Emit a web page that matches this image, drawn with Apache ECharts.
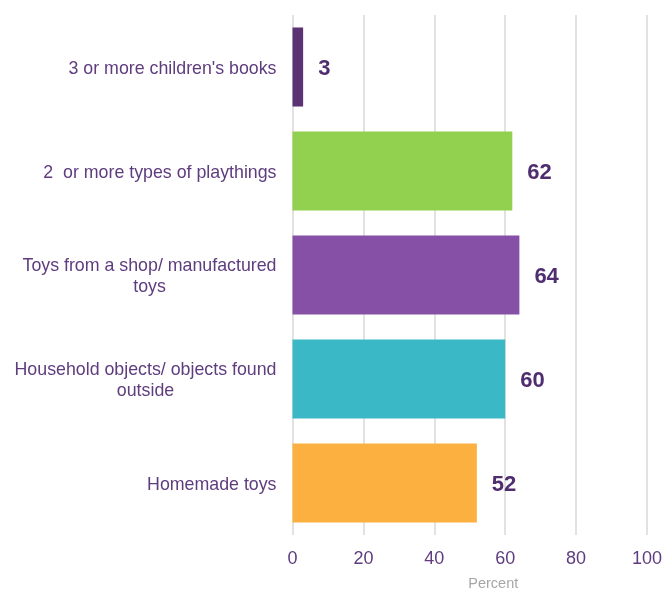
<!DOCTYPE html>
<html>
<head>
<meta charset="utf-8">
<script src="https://cdn.jsdelivr.net/npm/echarts@6/dist/echarts.min.js"></script>
<style>
  html, body { margin: 0; padding: 0; background: #fff; }
  #chart { width: 664px; height: 590px; }
</style>
</head>
<body>
<div id="chart"></div>
<script>
// categories, top to bottom
var categories = [
    "3 or more children's books",
    "2  or more types of playthings",
    "Toys from a shop/ manufactured\ntoys",
    "Household objects/ objects found\noutside",
    "Homemade toys"
];
var values = [3, 62, 64, 60, 52];
var barColors = ['#5b3272', '#92d050', '#8650a6', '#3bb8c6', '#fbb040'];
var xTicks = [0, 20, 40, 60, 80, 100];

var FONT = 'Liberation Sans';
var textColor = '#5e3c7e';
var catSize = 17.8;

// measure text so that wrapped labels can be centred inside their block
var ctx = document.createElement('canvas').getContext('2d');
ctx.font = catSize + 'px "' + FONT + '"';

function blockWidth(lines) {
    var w = 0;
    lines.forEach(function (l) {
        w = Math.max(w, ctx.measureText(l).width);
    });
    return Math.ceil(w);
}

var catRich = {};
categories.forEach(function (c) {
    var lines = c.split('\n');
    if (lines.length > 1) {
        var w = blockWidth(lines);
        catRich['w' + w] = {
            width: w,
            align: 'center',
            fontSize: catSize,
            lineHeight: 21,
            color: textColor,
            fontFamily: FONT
        };
    }
});

var chart = echarts.init(document.getElementById('chart'));

var option = {
    backgroundColor: '#ffffff',
    animation: false,
    grid: {
        left: 292.5,
        right: 17,
        top: 15,
        bottom: 55,
        containLabel: false,
        outerBoundsMode: 'none'
    },
    xAxis: {
        type: 'value',
        min: xTicks[0],
        max: xTicks[xTicks.length - 1],
        interval: 20,
        name: 'Percent',
        nameLocation: 'middle',
        nameGap: 41,
        nameTextStyle: {
            color: '#a6a6a6',
            fontSize: 14.5,
            fontFamily: FONT,
            padding: [0, 0, 0, 47]
        },
        axisLine: { show: false },
        axisTick: { show: false },
        splitLine: {
            show: true,
            lineStyle: { color: '#d9d9d9', width: 1.5 }
        },
        axisLabel: {
            margin: 15,
            fontSize: 18,
            color: textColor,
            fontFamily: FONT
        }
    },
    yAxis: {
        type: 'category',
        inverse: true,
        data: categories,
        axisLine: { show: false },
        axisTick: { show: false },
        axisLabel: {
            margin: 16,
            padding: [4, 0, 0, 0],
            fontSize: catSize,
            lineHeight: 21,
            color: textColor,
            fontFamily: FONT,
            formatter: function (value) {
                var lines = value.split('\n');
                if (lines.length == 1) return value;
                var key = 'w' + blockWidth(lines);
                return lines.map(function (l) { return '{' + key + '|' + l + '}'; }).join('\n');
            },
            rich: catRich
        }
    },
    series: [{
        type: 'bar',
        barCategoryGap: '24%',
        data: values.map(function (v, i) {
            return { value: v, itemStyle: { color: barColors[i] } };
        }),
        label: {
            show: true,
            position: 'right',
            distance: 15,
            offset: [0, 2],
            fontSize: 22,
            fontWeight: 'bold',
            color: '#4f2d6e',
            fontFamily: FONT
        }
    }]
};
chart.setOption(option);
</script>
</body>
</html>
